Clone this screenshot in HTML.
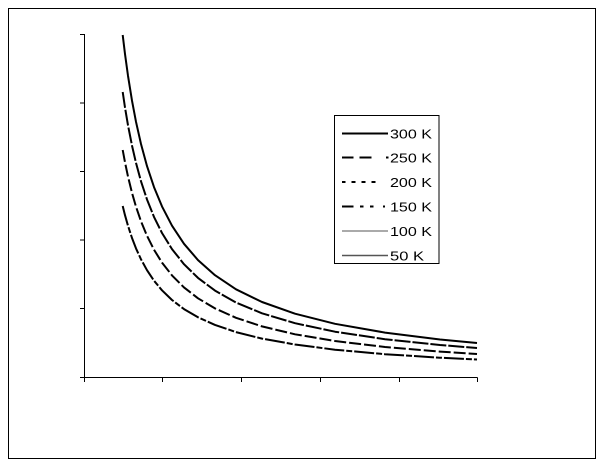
<!DOCTYPE html>
<html>
<head>
<meta charset="utf-8">
<style>
  html, body { margin: 0; padding: 0; background: #ffffff; }
  body { width: 605px; height: 471px; overflow: hidden; }
  svg { display: block; }
  text { font-family: "Liberation Sans", Arial, sans-serif; font-size: 13px; fill: #000; }
</style>
</head>
<body>
<svg width="605" height="471" viewBox="0 0 605 471" xmlns="http://www.w3.org/2000/svg">
  <rect x="0" y="0" width="605" height="471" fill="#ffffff"/>
  <!-- outer border -->
  <rect x="8.5" y="8.5" width="587" height="450" fill="none" stroke="#000" stroke-width="1"/>

  <!-- axes -->
  <g stroke="#000" stroke-width="1.2" fill="none" shape-rendering="crispEdges">
    <line x1="84.5" y1="34" x2="84.5" y2="377.5"/>
    <line x1="80" y1="377.5" x2="477.5" y2="377.5"/>
    <line x1="80" y1="34.5" x2="84.5" y2="34.5"/>
    <line x1="80" y1="103" x2="84.5" y2="103"/>
    <line x1="80" y1="171.5" x2="84.5" y2="171.5"/>
    <line x1="80" y1="240" x2="84.5" y2="240"/>
    <line x1="80" y1="308.5" x2="84.5" y2="308.5"/>
    <line x1="84.5" y1="377.5" x2="84.5" y2="382"/>
    <line x1="162.5" y1="377.5" x2="162.5" y2="382"/>
    <line x1="241.5" y1="377.5" x2="241.5" y2="382"/>
    <line x1="320.5" y1="377.5" x2="320.5" y2="382"/>
    <line x1="399.5" y1="377.5" x2="399.5" y2="382"/>
    <line x1="477.5" y1="377.5" x2="477.5" y2="382"/>
  </g>

  <!-- curves -->
  <g fill="none" stroke="#000" stroke-width="2" stroke-linejoin="round">
    <polyline points="122.7,35 125,54 128,75.8 132,100.7 136,121.8 141,144 147,166.1 154,187.1 162,206.4 172,225.7 184,243.8 198,260.1 215,275.2 236,289.3 262,302 295,313.7 335,323.8 385,332.6 440,339.5 477,343"/>
    <polyline stroke-dasharray="16 2" points="122.7,92 125,107.5 128,125.3 132,145.6 136,162.9 141,181.3 147,199.5 154,216.9 162,233 172,249.1 184,264.2 198,277.9 215,290.6 236,302.5 262,313.3 295,323.2 335,331.7 385,339.2 440,345 477,348"/>
    <polyline stroke-dasharray="12 3" points="122.7,150 125,162.3 128,176.6 132,192.9 136,206.7 141,221.3 147,235.8 154,249.7 162,262.6 172,275.4 184,287.4 198,298.3 215,308.4 236,317.8 262,326.4 295,334.3 335,341 385,347 440,351.6 477,354"/>
    <polyline stroke-dasharray="20 2 6 2" points="122.7,206 125,215.2 128,225.8 132,238 136,248.4 141,259.3 147,270.2 154,280.7 162,290.3 172,300 184,309.1 198,317.3 215,324.9 236,332.1 262,338.6 295,344.5 335,349.7 385,354.2 440,357.7 477,359.5"/>
  </g>

  <!-- legend -->
  <rect x="334.5" y="115.5" width="104.5" height="148" fill="#fff" stroke="#000" stroke-width="1"/>
  <g fill="none" stroke="#000" stroke-width="2">
    <line x1="342" y1="133.5" x2="388" y2="133.5"/>
    <line x1="342" y1="157.5" x2="353.5" y2="157.5"/>
    <line x1="359.5" y1="157.5" x2="371.5" y2="157.5"/>
    <line x1="386" y1="157.5" x2="388.5" y2="157.5"/>
    <line x1="342" y1="182" x2="345.5" y2="182"/>
    <line x1="351.5" y1="182" x2="355.5" y2="182"/>
    <line x1="361.5" y1="182" x2="365.5" y2="182"/>
    <line x1="371.5" y1="182" x2="375.5" y2="182"/>
    <line x1="342" y1="206.5" x2="353.5" y2="206.5"/>
    <line x1="360" y1="206.5" x2="363.5" y2="206.5"/>
    <line x1="370" y1="206.5" x2="373.5" y2="206.5"/>
    <line x1="383" y1="206.5" x2="385" y2="206.5"/>
  </g>
  <line x1="342" y1="231" x2="388" y2="231" stroke="#777" stroke-width="1.2"/>
  <line x1="342" y1="255.5" x2="388" y2="255.5" stroke="#555" stroke-width="1.5"/>

  <g>
    <text x="390" y="138.5" textLength="42" lengthAdjust="spacingAndGlyphs">300 K</text>
    <text x="390" y="162.5" textLength="42" lengthAdjust="spacingAndGlyphs">250 K</text>
    <text x="390" y="187" textLength="42" lengthAdjust="spacingAndGlyphs">200 K</text>
    <text x="390" y="211.5" textLength="42" lengthAdjust="spacingAndGlyphs">150 K</text>
    <text x="390" y="236" textLength="42" lengthAdjust="spacingAndGlyphs">100 K</text>
    <text x="390" y="260.5" textLength="34" lengthAdjust="spacingAndGlyphs">50 K</text>
  </g>
</svg>
</body>
</html>
